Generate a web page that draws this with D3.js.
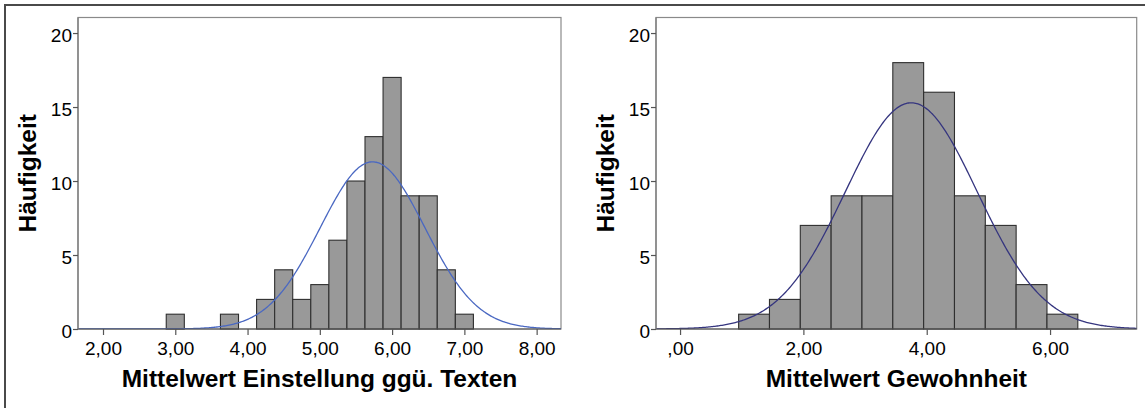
<!DOCTYPE html>
<html>
<head>
<meta charset="utf-8">
<script src="https://cdn.jsdelivr.net/npm/d3@7"></script>
<style>
  html, body { margin: 0; padding: 0; background: #fff; }
  svg { display: block; }
  text { font-family: "Liberation Sans", Arial, Helvetica, sans-serif; fill: #000; }
</style>
</head>
<body>
<svg id="chart" width="1145" height="408"></svg>
<script>
// ---- data ----
const leftBinStarts = [2.875, 3.625, 4.125, 4.375, 4.625, 4.875, 5.125, 5.375, 5.625, 5.875, 6.125, 6.375, 6.625, 6.875];
const leftCounts    = [1, 1, 2, 4, 2, 3, 6, 10, 13, 17, 9, 9, 4, 1];
const leftBinWidth  = 0.25;
const leftMean = 5.73, leftSD = 0.724, leftN = 82;
const leftXTicks = [2, 3, 4, 5, 6, 7, 8];
const leftXDomain = [1.654, 8.337];
const leftTitle = "Mittelwert Einstellung ggü. Texten";

const rightBinStarts = [0.95, 1.45, 1.95, 2.45, 2.95, 3.45, 3.95, 4.45, 4.95, 5.45, 5.95];
const rightCounts    = [1, 2, 7, 9, 9, 18, 16, 9, 7, 3, 1];
const rightBinWidth  = 0.5;
const rightMean = 3.75, rightSD = 1.07, rightN = 82;
const rightXTicks = [0, 2, 4, 6];
const rightXDomain = [-0.39, 7.405];
const rightTitle = "Mittelwert Gewohnheit";

const yTicks = [0, 5, 10, 15, 20];
const yDomain = [0, 21.05];
const yTitle = "Häufigkeit";

// ---- drawing ----
const svg = d3.select("#chart");

// outer border (only top and left visible)
svg.append("rect")
  .attr("x", 5).attr("y", 5)
  .attr("width", 1160).attr("height", 420)
  .attr("fill", "none").attr("stroke", "#4a4a4a").attr("stroke-width", 2);

const fmt = d => {
  let s = d3.format(".2f")(d).replace(".", ",");
  if (s.startsWith("0,")) s = s.slice(1);
  return s;
};

function panel(cfg) {
  const { left, right, top, bottom } = cfg;
  const x = d3.scaleLinear().domain(cfg.xDomain).range([left, right]);
  const y = d3.scaleLinear().domain(yDomain).range([bottom, top]);
  const g = svg.append("g");

  const clipId = "clip" + cfg.id;
  svg.append("clipPath").attr("id", clipId)
    .append("rect").attr("x", left).attr("y", top)
    .attr("width", right - left).attr("height", bottom - top);

  // frame
  g.append("rect")
    .attr("x", left).attr("y", top)
    .attr("width", right - left).attr("height", bottom - top)
    .attr("fill", "#fff").attr("stroke", "#8a8a8a").attr("stroke-width", 1.2);

  // bars
  const bins = cfg.starts.map((s, i) => ({ x0: s, x1: s + cfg.bw, c: cfg.counts[i] }));
  g.append("g").selectAll("rect").data(bins).join("rect")
    .attr("x", d => x(d.x0))
    .attr("y", d => y(d.c))
    .attr("width", d => x(d.x1) - x(d.x0))
    .attr("height", d => y(0) - y(d.c))
    .attr("fill", "#999999")
    .attr("stroke", "#2f2f2f")
    .attr("stroke-width", 1.1);

  // normal curve
  const pts = d3.range(0, 401).map(i => {
    const xv = cfg.xDomain[0] + (cfg.xDomain[1] - cfg.xDomain[0]) * i / 400;
    const z = (xv - cfg.mean) / cfg.sd;
    const yv = cfg.n * cfg.bw * Math.exp(-0.5 * z * z) / (cfg.sd * Math.sqrt(2 * Math.PI));
    return [xv, yv];
  });
  g.append("path")
    .attr("clip-path", `url(#${clipId})`)
    .attr("d", d3.line().x(d => x(d[0])).y(d => y(d[1]))(pts))
    .attr("fill", "none")
    .attr("stroke", cfg.curveColor)
    .attr("stroke-width", 1.3);

  // baseline
  g.append("line")
    .attr("x1", left).attr("x2", right)
    .attr("y1", bottom).attr("y2", bottom)
    .attr("stroke", "#555").attr("stroke-width", 1.2);
  // left axis line
  g.append("line")
    .attr("x1", left).attr("x2", left)
    .attr("y1", top).attr("y2", bottom)
    .attr("stroke", "#777").attr("stroke-width", 1.2);

  // x axis
  const xa = g.append("g").attr("transform", `translate(0,${bottom})`)
    .call(d3.axisBottom(x).tickValues(cfg.xTicks).tickFormat(fmt).tickSize(6).tickPadding(7));
  xa.select(".domain").remove();
  xa.selectAll(".tick line").attr("stroke", "#555").attr("stroke-width", 1.2);
  xa.selectAll(".tick text").attr("font-size", 19).attr("fill", "#111")
    .style("font-family", '"Liberation Sans", Arial, sans-serif');

  // y axis
  const ya = g.append("g").attr("transform", `translate(${left},0)`)
    .call(d3.axisLeft(y).tickValues(yTicks).tickSize(5).tickPadding(1));
  ya.select(".domain").remove();
  ya.selectAll(".tick line").attr("stroke", "#555").attr("stroke-width", 1.2);
  ya.selectAll(".tick text").attr("font-size", 19).attr("dy", "0.45em").attr("fill", "#111")
    .style("font-family", '"Liberation Sans", Arial, sans-serif');

  // titles
  g.append("text")
    .attr("x", (left + right) / 2).attr("y", 387)
    .attr("text-anchor", "middle")
    .attr("font-size", 24.5).attr("font-weight", "bold")
    .text(cfg.title);

  g.append("text")
    .attr("transform", `translate(${left - 42},${(top + bottom) / 2}) rotate(-90)`)
    .attr("text-anchor", "middle")
    .attr("font-size", 24.5).attr("font-weight", "bold")
    .text(yTitle);
}

panel({
  id: "L", left: 78, right: 561, top: 17.5, bottom: 329,
  xDomain: leftXDomain, xTicks: leftXTicks,
  starts: leftBinStarts, counts: leftCounts, bw: leftBinWidth,
  mean: leftMean, sd: leftSD, n: leftN,
  curveColor: "#4a68c2", title: leftTitle
});

panel({
  id: "R", left: 656, right: 1136.7, top: 17.5, bottom: 329,
  xDomain: rightXDomain, xTicks: rightXTicks,
  starts: rightBinStarts, counts: rightCounts, bw: rightBinWidth,
  mean: rightMean, sd: rightSD, n: rightN,
  curveColor: "#35357f", title: rightTitle
});
</script>
</body>
</html>
